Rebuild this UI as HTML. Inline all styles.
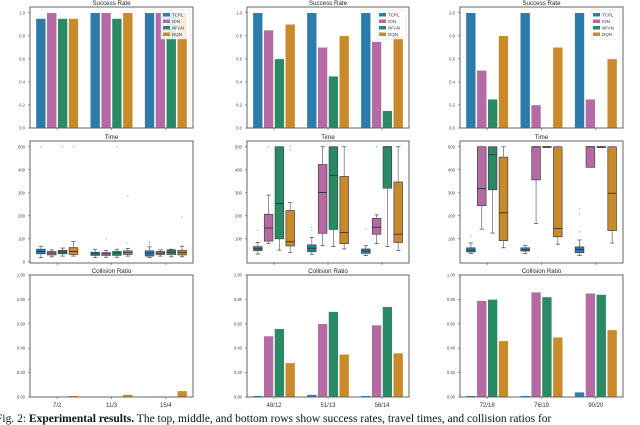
<!DOCTYPE html>
<html><head><meta charset="utf-8">
<style>
html,body{margin:0;padding:0;background:#fff;}
body{width:640px;height:421px;overflow:hidden;position:relative;}
svg{position:absolute;left:0;top:0;}
text{font-family:"Liberation Sans",sans-serif;}
</style></head>
<body>
<svg id="fig" width="640" height="421" viewBox="0 0 640 421"></svg>
<script>
// ---------- data ----------
const methods = ["TCPL","ION","NFAN","DQN"];
const colors = ["#2d7bab","#b56aa3","#2a8a66","#c98a2b"];
const xTickLabels = [["7/2","11/3","15/4"],["48/12","51/13","56/14"],["72/18","76/19","90/20"]];
const successTicks = ["0.0","0.2","0.4","0.6","0.8","1.0"];
const timeTicks = ["0","100","200","300","400","500"];
const collisionTicks = ["0.00","0.20","0.40","0.60","0.80","1.00"];
// success rate [panel][group][method]
const successLeft = [[0.95,1.0,0.95,0.95],[1.0,1.0,0.95,1.0],[1.0,1.0,1.0,1.0]];
const successMid = [[1.0,0.85,0.6,0.9],[1.0,0.7,0.45,0.8],[1.0,0.75,0.15,0.8]];
const successRight = [[1.0,0.5,0.25,0.8],[1.0,0.2,0.0,0.7],[1.0,0.25,0.0,0.6]];
// collision ratio
const collisionLeft = [[0,0,0,0.01],[0,0,0,0.02],[0,0.005,0.005,0.05]];
const collisionMid = [[0.01,0.5,0.56,0.28],[0.02,0.6,0.7,0.35],[0.01,0.59,0.74,0.36]];
const collisionRight = [[0.01,0.79,0.8,0.46],[0.01,0.86,0.82,0.49],[0.04,0.85,0.84,0.55]];
// time boxes: [lo, q1, med, q3, hi, outliers]
const timeLeft = [
 [[18,35,45,55,68,[500]],[22,30,38,45,52,[]],[25,35,42,50,60,[500]],[25,32,45,62,88,[500]]],
 [[18,28,35,42,55,[]],[20,28,35,40,50,[100]],[20,28,38,45,55,[500]],[25,32,40,48,58,[285,82]]],
 [[18,25,38,48,65,[85,75]],[25,32,38,45,52,[]],[22,32,42,52,55,[]],[22,30,40,50,68,[195]]]];
const timeMid = [
 [[34,49,57,66,84,[137]],[80,90,147,207,290,[500]],[51,100,253,500,500,[]],[41,69,87,223,257,[500,486]]],
 [[33,44,59,74,106,[137,151]],[70,124,301,423,500,[]],[66,141,376,500,500,[]],[56,79,127,371,500,[]]],
 [[27,37,47,56,70,[144]],[79,120,150,189,204,[500]],[66,320,500,500,500,[]],[50,84,120,347,500,[]]]];
const timeRight = [
 [[37,43,51,61,82,[111]],[142,244,318,500,500,[]],[125,313,465,500,500,[]],[61,92,213,455,500,[]]],
 [[37,47,52,61,72,[]],[167,356,500,500,500,[]],[500,500,500,500,500,[]],[77,109,145,500,500,[]]],
 [[28,40,54,65,95,[230,208,130]],[411,411,500,500,500,[]],[500,500,500,500,500,[]],[82,136,298,500,500,[258,99]]]];

// ---------- layout ----------
const NS="http://www.w3.org/2000/svg";
const svg=document.getElementById("fig");
const cols=[[30,193],[247,409],[460,623]];
const rows=[[7,128],[141,263],[275,397]];
function mk(tag,attrs,parent){const e=document.createElementNS(NS,tag);for(const k in attrs)e.setAttribute(k,attrs[k]);(parent||svg).appendChild(e);return e;}
function txt(x,y,s,size,anchor,parent,fill){const t=mk("text",{x:x,y:y,"font-size":size,"text-anchor":anchor||"middle",fill:fill||"#222"},parent);t.textContent=s;return t;}

function makeAxes(r,c,title,ticks,domain,name){
  const [x0,x1]=cols[c],[y0,y1]=rows[r];
  const g=mk("g",{});
  
  
  const ys=v=>y1-(v-domain[0])/(domain[1]-domain[0])*(y1-y0);
  const gw=(x1-x0)/3;
  const xs=i=>x0+gw*(i+0.5);
  const tt=txt((x0+x1)/2,y0-2,title,6.2,"middle",g);
  
  
  return {g,ys,xs,gw,x0,x1,y0,y1};
}
function frame(a,ticks,tickVals,xlabels){
  mk("rect",{x:a.x0,y:a.y0,width:a.x1-a.x0,height:a.y1-a.y0,fill:"none",stroke:"#555","stroke-width":0.9},a.g);
  ticks.forEach((lab,i)=>{
    const y=a.ys(tickVals[i]);
    mk("line",{x1:a.x0-2,x2:a.x0,y1:y,y2:y,stroke:"#555","stroke-width":0.6},a.g);
    const t=txt(a.x0-5,y+1.5,lab,4.2,"end",a.g,"#444");
    
    
  });
  for(let i=0;i<3;i++){
    mk("line",{x1:a.xs(i),x2:a.xs(i),y1:a.y1,y2:a.y1+2,stroke:"#555","stroke-width":0.6},a.g);
    if(xlabels){const t=txt(a.xs(i),a.y1+10,xlabels[i],6,"middle",a.g,"#333");
      
      }
  }
}
function bars(a,data){
  const bw=a.gw*0.8/4;
  data.forEach((grp,gi)=>grp.forEach((v,k)=>{
    const x=a.xs(gi)-a.gw*0.4+k*bw;
    const y=a.ys(v);
    const b=mk("rect",{x:x+0.5,y:y,width:bw-1,height:Math.max(0,a.ys(0)-y),fill:colors[k],stroke:"#fff","stroke-width":0.5},a.g);
    
    
  }));
}
function boxes(a,data){
  const bw=a.gw*0.8/4;
  data.forEach((grp,gi)=>grp.forEach((d,k)=>{
    const cx=a.xs(gi)-a.gw*0.4+(k+0.5)*bw;
    const w=bw*0.8;
    const [lo,q1,med,q3,hi,out]=d;
    const bg=mk("g",{},a.g);
    
    
    mk("line",{x1:cx,x2:cx,y1:a.ys(lo),y2:a.ys(q1),stroke:"#666","stroke-width":0.7},bg);
    mk("line",{x1:cx,x2:cx,y1:a.ys(q3),y2:a.ys(hi),stroke:"#666","stroke-width":0.7},bg);
    mk("line",{x1:cx-w/4,x2:cx+w/4,y1:a.ys(lo),y2:a.ys(lo),stroke:"#444","stroke-width":0.7},bg);
    mk("line",{x1:cx-w/4,x2:cx+w/4,y1:a.ys(hi),y2:a.ys(hi),stroke:"#444","stroke-width":0.7},bg);
    mk("rect",{x:cx-w/2,y:a.ys(q3),width:w,height:Math.max(0.8,a.ys(q1)-a.ys(q3)),fill:colors[k],stroke:"#444","stroke-width":0.7},bg);
    mk("line",{x1:cx-w/2,x2:cx+w/2,y1:a.ys(med),y2:a.ys(med),stroke:"#333","stroke-width":0.9},bg);
    out.forEach(o=>mk("rect",{x:cx-0.5,y:a.ys(o)-0.5,width:1,height:1,fill:"#888"},bg));
  }));
}
function legend(a){
  const lg=mk("g",{},a.g);
  
  
  const lx=a.x1-32,ly=a.y0+3;
  mk("rect",{x:lx,y:ly,width:29,height:29,fill:"#fff","fill-opacity":0.85,stroke:"#ddd","stroke-width":0.5},lg);
  methods.forEach((m,i)=>{
    const e=mk("g",{},lg);
    
    
    mk("rect",{x:lx+2,y:ly+3+i*6.5,width:7,height:3.5,fill:colors[i]},e);
    txt(lx+11,ly+6.5+i*6.5,m,4.5,"start",e,"#333");
  });
}
const sTickV=[0,0.2,0.4,0.6,0.8,1.0], tTickV=[0,100,200,300,400,500], cTickV=[0,0.2,0.4,0.6,0.8,1.0];
const successAll=[successLeft,successMid,successRight];
const timeAll=[timeLeft,timeMid,timeRight];
const collAll=[collisionLeft,collisionMid,collisionRight];
for(let c=0;c<3;c++){
  const a=makeAxes(0,c,"Success Rate",successTicks,[0,1.05],"success-rate-panel-"+(c+1));
  bars(a,successAll[c]); frame(a,successTicks,sTickV,null); legend(a);
  const b=makeAxes(1,c,"Time",timeTicks,[-5,525],"time-panel-"+(c+1));
  boxes(b,timeAll[c]);
  frame(b,c===0?timeTicks:timeTicks.slice(1),c===0?tTickV:tTickV.slice(1),null);
  const d=makeAxes(2,c,"Collision Ratio",collisionTicks,[0,1],"collision-ratio-panel-"+(c+1));
  bars(d,collAll[c]); frame(d,collisionTicks,cTickV,xTickLabels[c]);
}
</script>
<div style="position:absolute;left:-4px;top:413px;width:660px;white-space:nowrap;font-family:'Liberation Serif',serif;font-size:11.5px;color:#111;">Fig. 2: <b>Experimental results.</b> The top, middle, and bottom rows show success rates, travel times, and collision ratios for</div>
</body></html>
